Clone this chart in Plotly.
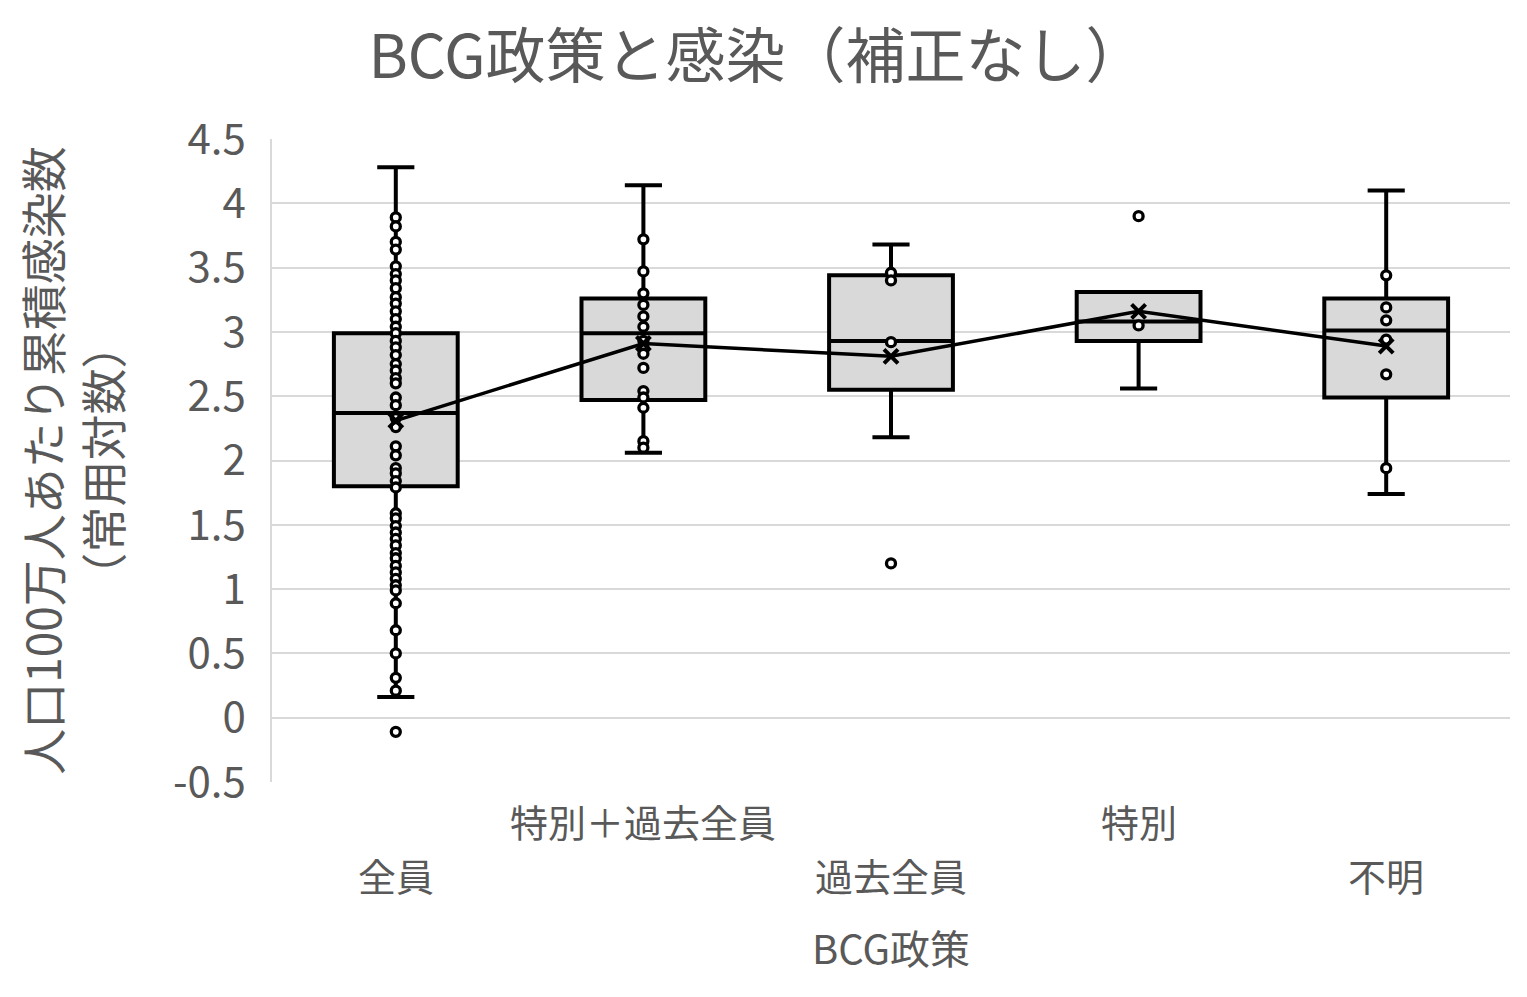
import plotly.graph_objects as go

# カテゴリ（BCG政策）
categories = ['全員', '特別＋過去全員', '過去全員', '特別', '不明']

# 箱ひげ図の統計量
q1 = [1.80, 2.47, 2.55, 2.93, 2.49]
median = [2.37, 2.99, 2.93, 3.08, 3.01]
q3 = [2.99, 3.26, 3.44, 3.31, 3.26]
lower_fence = [0.16, 2.06, 2.18, 2.56, 1.74]
upper_fence = [4.28, 4.14, 3.68, 3.31, 4.10]
means = [2.31, 2.91, 2.81, 3.16, 2.89]

# 各グループのデータ点
pts_all = [3.89, 3.82, 3.70, 3.64, 3.51, 3.45, 3.40, 3.34, 3.27, 3.22, 3.16,
           3.10, 3.04, 2.99, 2.93, 2.88, 2.82, 2.75, 2.70, 2.64, 2.60, 2.49,
           2.43, 2.33, 2.26, 2.11, 2.04, 1.94, 1.90, 1.84, 1.79, 1.59, 1.55,
           1.49, 1.44, 1.39, 1.34, 1.28, 1.24, 1.18, 1.13, 1.08, 1.03, 0.99,
           0.89, 0.68, 0.50, 0.31, 0.21, -0.11]
pts_special_past = [3.72, 3.47, 3.30, 3.21, 3.12, 3.04, 2.93, 2.88, 2.83,
                    2.72, 2.54, 2.49, 2.41, 2.15, 2.10]
pts_past = [3.46, 3.40, 2.92, 1.20]
pts_special = [3.90, 3.05]
pts_unknown = [3.44, 3.19, 3.09, 2.94, 2.67, 1.94]
points = [pts_all, pts_special_past, pts_past, pts_special, pts_unknown]

# 目盛り
y_ticks = [-0.5, 0, 0.5, 1, 1.5, 2, 2.5, 3, 3.5, 4, 4.5]
y_tick_labels = ['-0.5', '0', '0.5', '1', '1.5', '2', '2.5', '3', '3.5', '4', '4.5']

FONT = 'Noto Sans CJK JP'
TXT = '#595959'

fig = go.Figure()

# 箱ひげ
fig.add_trace(go.Box(
    x=categories, q1=q1, median=median, q3=q3,
    lowerfence=lower_fence, upperfence=upper_fence,
    fillcolor='#d9d9d9', line=dict(color='black', width=4),
    width=0.5, whiskerwidth=0.3, boxpoints=False,
    hoverinfo='skip', showlegend=False,
))

# データ点
for cat, vals in zip(categories, points):
    fig.add_trace(go.Scatter(
        x=[cat] * len(vals), y=vals, mode='markers',
        marker=dict(symbol='circle', size=9, color='white',
                    line=dict(color='black', width=3.3)),
        showlegend=False,
    ))

# 平均値の線
fig.add_trace(go.Scatter(
    x=categories, y=means, mode='lines+markers',
    line=dict(color='black', width=3.5),
    marker=dict(symbol='x-thin', size=14, color='black',
                line=dict(color='black', width=4)),
    showlegend=False,
))

# x軸ラベル（2段表示）
for i, cat in enumerate(categories):
    fig.add_annotation(
        x=cat, y=0, xref='x', yref='paper', text=cat, showarrow=False,
        yanchor='middle', yshift=-38 if i % 2 else -92,
        font=dict(family=FONT, size=38, color=TXT),
    )

fig.add_annotation(
    x=0.5, y=0, xref='paper', yref='paper', text='BCG政策', showarrow=False,
    yanchor='middle', yshift=-165,
    font=dict(family=FONT, size=40, color=TXT),
)

fig.update_layout(
    width=1519, height=989,
    paper_bgcolor='white', plot_bgcolor='white',
    margin=dict(l=264, r=17, t=131, b=215),
    title=dict(text='BCG政策と感染（補正なし）', x=(757 - 8) / 1519, xanchor='center',
               y=1 - 49 / 989, yanchor='middle', yref='container',
               font=dict(family=FONT, size=60, color=TXT)),
    xaxis=dict(type='category', range=[-0.5, 4.5], showticklabels=False,
               showgrid=False, showline=False, zeroline=False),
    yaxis=dict(range=[-0.5, 4.5], tickvals=y_ticks, ticktext=y_tick_labels,
               showgrid=True, gridcolor='#d9d9d9', gridwidth=1.5,
               showline=True, linecolor='#d9d9d9', linewidth=1.5,
               zeroline=False, ticks='', ticklabelstandoff=16,
               tickfont=dict(family=FONT, size=42, color=TXT),
               title=dict(text='人口100万人あたり累積感染数<br>（常用対数）',
                          standoff=48,
                          font=dict(family=FONT, size=46, color=TXT))),
)

fig.write_html('out.html')
